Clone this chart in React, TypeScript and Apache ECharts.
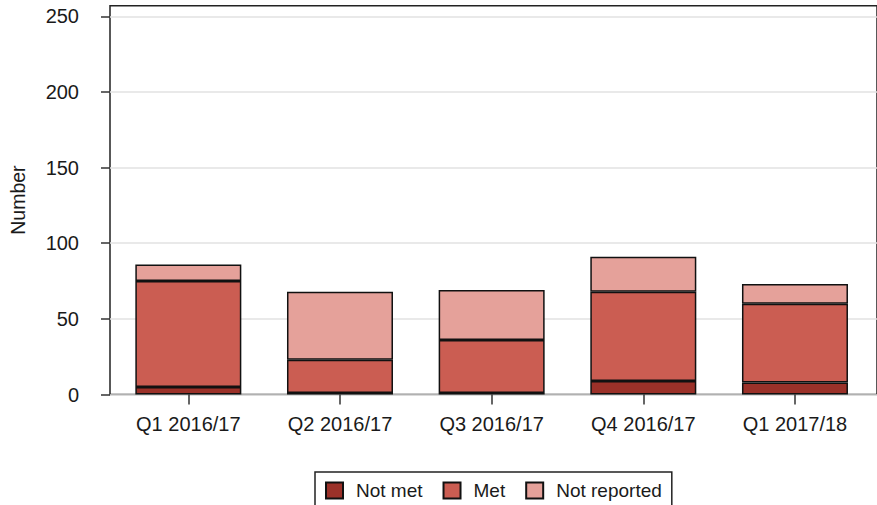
import React, { useEffect, useRef } from "react";
import * as echarts from "echarts";

const categories = ["Q1 2016/17", "Q2 2016/17", "Q3 2016/17", "Q4 2016/17", "Q1 2017/18"];
const notMet = [5, 1, 1, 9, 8];
const met = [70, 22, 35, 59, 52];
const notReported = [11, 45, 33, 23, 13];
const yTicks = [0, 50, 100, 150, 200, 250];

const FONT = "'Liberation Sans', Arial, sans-serif";
const TEXT = "#1a1a1a";

export default function App() {
  const ref = useRef<HTMLDivElement>(null);
  useEffect(() => {
    if (!ref.current) return;
    const chart = echarts.init(ref.current, undefined, { renderer: "svg" });
    const barStyle = (color: string) => ({ color, borderColor: "#111", borderWidth: 1.5 });
    chart.setOption({
      animation: false,
      textStyle: { fontFamily: FONT },
      grid: [
        { left: 99.5, top: 5.7, right: -4, bottom: 110.5, show: true, borderColor: "#222", borderWidth: 1.5, backgroundColor: "transparent" },
        { left: 112.5, top: 5.7, right: 6.2, bottom: 110.5 },
      ],
      xAxis: [
        { type: "value", gridIndex: 0, min: 0, max: 1, show: false },
        {
          type: "category",
          gridIndex: 1,
          data: categories,
          axisLine: { show: false },
          axisTick: { show: true, alignWithLabel: true, length: 10, lineStyle: { color: "#333", width: 1.5 } },
          axisLabel: { margin: 19, fontSize: 20, color: TEXT, fontFamily: FONT },
        },
      ],
      yAxis: [
        {
          type: "value",
          gridIndex: 0,
          min: 0,
          max: 257,
          interval: 50,
          name: "Number",
          nameLocation: "middle",
          nameRotate: 90,
          nameGap: 82,
          nameTextStyle: { fontSize: 19.5, color: TEXT, fontFamily: FONT },
          axisLine: { show: false },
          axisTick: { show: true, length: 9, customValues: yTicks, lineStyle: { color: "#333", width: 1.5 } },
          axisLabel: {
            margin: 31,
            fontSize: 20,
            color: TEXT,
            fontFamily: FONT,
            customValues: yTicks,
            formatter: (v: number) => (v % 50 === 0 ? String(v) : ""),
          },
          splitLine: { show: true, lineStyle: { color: "#e2e2e2", width: 1.5 } },
        },
        { type: "value", gridIndex: 1, min: 0, max: 257, show: false },
      ],
      legend: {
        data: ["Not met", "Met", "Not reported"],
        left: 315,
        top: 472,
        padding: [9, 10, 9, 10],
        itemWidth: 17,
        itemHeight: 16,
        itemGap: 20,
        borderColor: "#222",
        borderWidth: 1.5,
        icon: "rect",
        textStyle: { fontSize: 19, color: TEXT, fontFamily: FONT, padding: [0, 0, 0, 8] },
      },
      series: [
        { name: "Not met", type: "bar", stack: "s", xAxisIndex: 1, yAxisIndex: 1, barWidth: 106, data: notMet, itemStyle: barStyle("#9b3129") },
        { name: "Met", type: "bar", stack: "s", xAxisIndex: 1, yAxisIndex: 1, barWidth: 106, data: met, itemStyle: barStyle("#cb5d52") },
        { name: "Not reported", type: "bar", stack: "s", xAxisIndex: 1, yAxisIndex: 1, barWidth: 106, data: notReported, itemStyle: barStyle("#e5a19a") },
      ],
    });
    return () => chart.dispose();
  }, []);
  return <div ref={ref} style={{ width: 877, height: 505, position: "absolute", left: 0, top: 0 }} />;
}
